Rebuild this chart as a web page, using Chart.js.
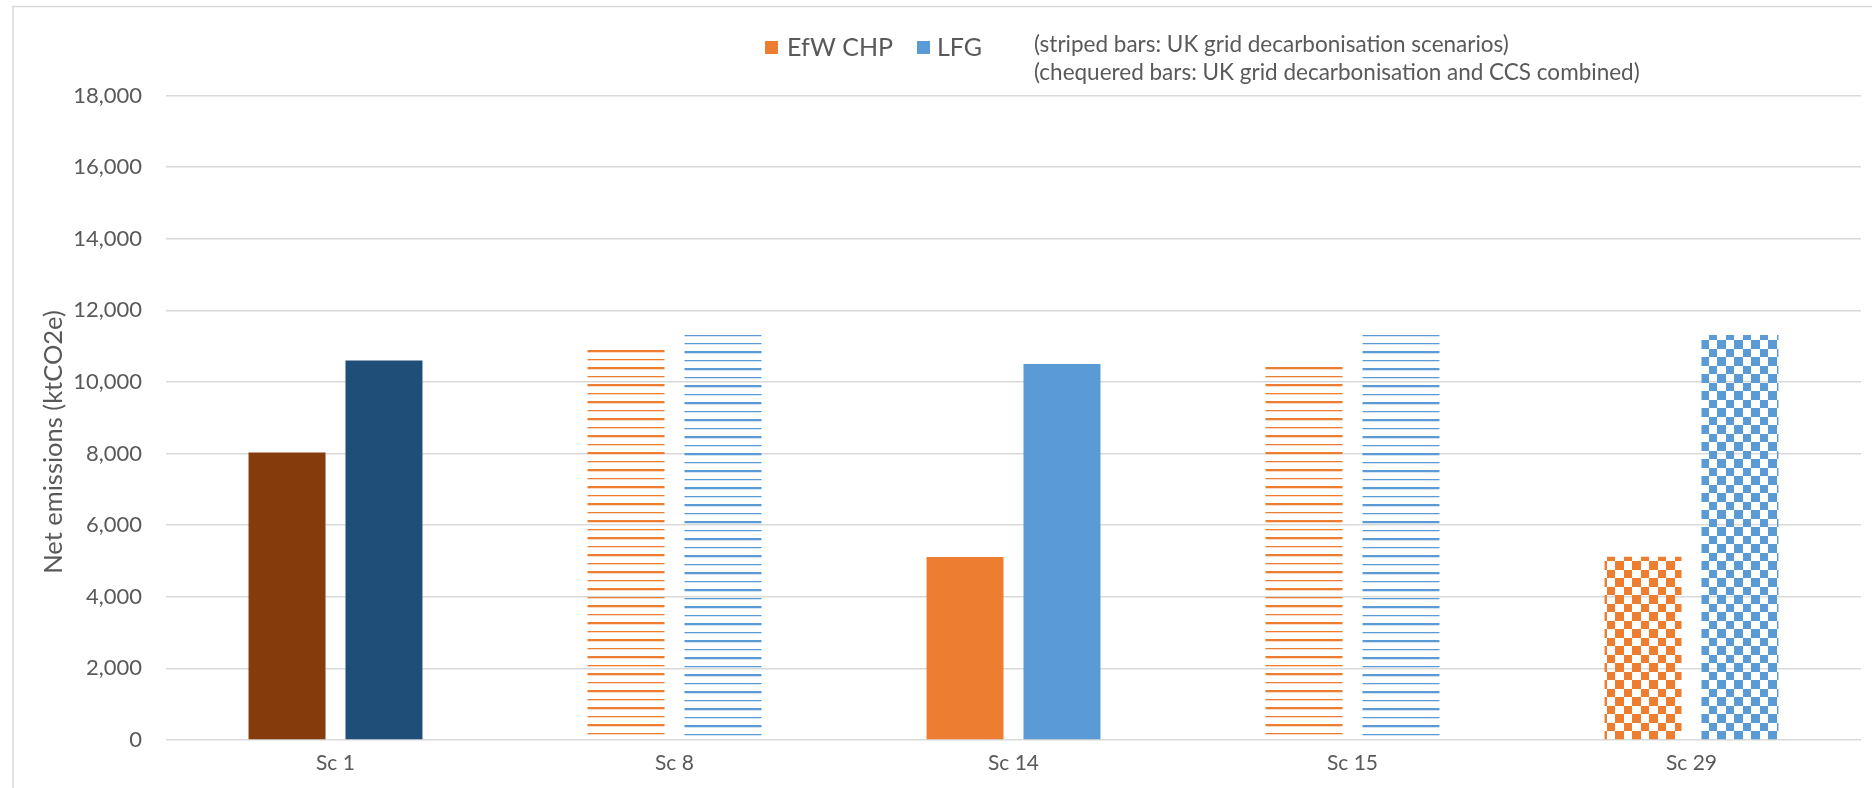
<!DOCTYPE html>
<html>
<head>
<meta charset="utf-8">
<title>Net emissions by scenario</title>
<script src="https://cdn.jsdelivr.net/npm/chart.js@4.4.1/dist/chart.umd.min.js"></script>
<style>
  html, body { margin: 0; padding: 0; background: #ffffff; }
  canvas { display: block; }
</style>
</head>
<body>
<canvas id="chart" width="1872" height="788"></canvas>
<script>
// ---- data ----
const scenarios = ['Sc 1', 'Sc 8', 'Sc 14', 'Sc 15', 'Sc 29'];
const efwChp = [8030, 10900, 5110, 10450, 5120];
const lfg = [10600, 11310, 10500, 11310, 11310];
const seriesNames = ['EfW CHP', 'LFG'];
const yMin = 0, yMax = 18000, yStep = 2000;
const yTitle = 'Net emissions (ktCO2e)';
const notes = [
  '(striped bars: UK grid decarbonisation scenarios)',
  '(chequered bars: UK grid decarbonisation and CCS combined)'
];

// ---- styles ----
const fillKinds = ['base', 'striped', 'solid', 'striped', 'chequered'];
const TEXT = '#595959';
const GRID = '#d9d9d9';
const FONT = 'Lato';
const palette = {
  efw: { solid: '#ED7D31', base: '#843C0C', tint: '#F9D9C4', phase: 0 },
  lfg: { solid: '#5B9BD5', base: '#1F4E79', tint: '#D3E3F3', phase: 1 }
};

const canvas = document.getElementById('chart');
const ctx = canvas.getContext('2d');

// horizontal stripes, one heavy and one light line every 17px
function stripePattern(color, tint, phase) {
  const t = document.createElement('canvas');
  t.width = 8; t.height = 17;
  const g = t.getContext('2d');
  g.fillStyle = color; g.fillRect(0, 2 + phase, 8, 1);
  g.fillStyle = tint;  g.fillRect(0, 3 + phase, 8, 1);
  g.fillStyle = color; g.fillRect(0, 10 + phase, 8, 2);
  g.fillStyle = tint;  g.fillRect(0, 12 + phase, 8, 1);
  return ctx.createPattern(t, 'repeat');
}

function checkerPattern(color) {
  const t = document.createElement('canvas');
  t.width = 17; t.height = 17;
  const g = t.getContext('2d');
  g.fillStyle = color;
  g.fillRect(0, 0, 9, 9);
  g.fillRect(9, 9, 8, 8);
  return ctx.createPattern(t, 'repeat');
}

function fillsFor(p) {
  return fillKinds.map(kind => {
    if (kind === 'base') return p.base;
    if (kind === 'striped') return stripePattern(p.solid, p.tint, p.phase);
    if (kind === 'chequered') return checkerPattern(p.solid);
    return p.solid;
  });
}

// Outer frame, custom legend with notes, and rotated axis title
const decorations = {
  id: 'decorations',
  beforeDraw(chart) {
    const c = chart.ctx;
    c.save();
    c.strokeStyle = GRID;
    c.lineWidth = 1.5;
    c.beginPath();
    c.moveTo(13, 788);
    c.lineTo(13, 6.5);
    c.lineTo(1872, 6.5);
    c.stroke();
    c.restore();
  },
  afterDraw(chart) {
    const c = chart.ctx;
    c.save();
    c.fillStyle = TEXT;
    c.textBaseline = 'middle';

    // legend
    const items = [
      { label: seriesNames[0], color: palette.efw.solid, box: 765, text: 787 },
      { label: seriesNames[1], color: palette.lfg.solid, box: 917, text: 937 }
    ];
    c.font = '25px ' + FONT;
    items.forEach(it => {
      c.fillStyle = it.color;
      c.fillRect(it.box, 41, 13, 13);
      c.fillStyle = TEXT;
      c.textAlign = 'left';
      c.fillText(it.label, it.text, 48);
    });

    // notes
    c.font = '22.5px ' + FONT;
    c.fillText(notes[0], 1034, 45);
    c.fillText(notes[1], 1034, 73);

    // y axis title
    c.translate(54, 442);
    c.rotate(-Math.PI / 2);
    c.textAlign = 'center';
    c.font = '25.5px ' + FONT;
    c.fillText(yTitle, 0, 0);
    c.restore();
  }
};

new Chart(ctx, {
  type: 'bar',
  data: {
    labels: scenarios,
    datasets: [
      { label: seriesNames[0], data: efwChp, backgroundColor: fillsFor(palette.efw), borderWidth: 0 },
      { label: seriesNames[1], data: lfg, backgroundColor: fillsFor(palette.lfg), borderWidth: 0 }
    ]
  },
  options: {
    responsive: false,
    animation: false,
    events: [],
    categoryPercentage: 0.572,
    barPercentage: 0.794,
    layout: { padding: { top: 95.5, right: 11, left: 0, bottom: 0 } },
    plugins: {
      legend: { display: false },
      tooltip: { enabled: false },
      title: { display: false }
    },
    scales: {
      x: {
        grid: { display: false, drawTicks: false },
        border: { display: false },
        ticks: { color: TEXT, font: { family: FONT, size: 21 }, padding: 11 },
        afterFit(s) { s.height = 48; }
      },
      y: {
        min: yMin,
        max: yMax,
        ticks: { stepSize: yStep, color: TEXT, font: { family: FONT, size: 22 }, padding: 24 },
        grid: { color: GRID, lineWidth: 1.5, drawTicks: false },
        border: { display: false },
        afterFit(s) { s.width = 166; }
      }
    }
  },
  plugins: [decorations]
});
</script>
</body>
</html>
